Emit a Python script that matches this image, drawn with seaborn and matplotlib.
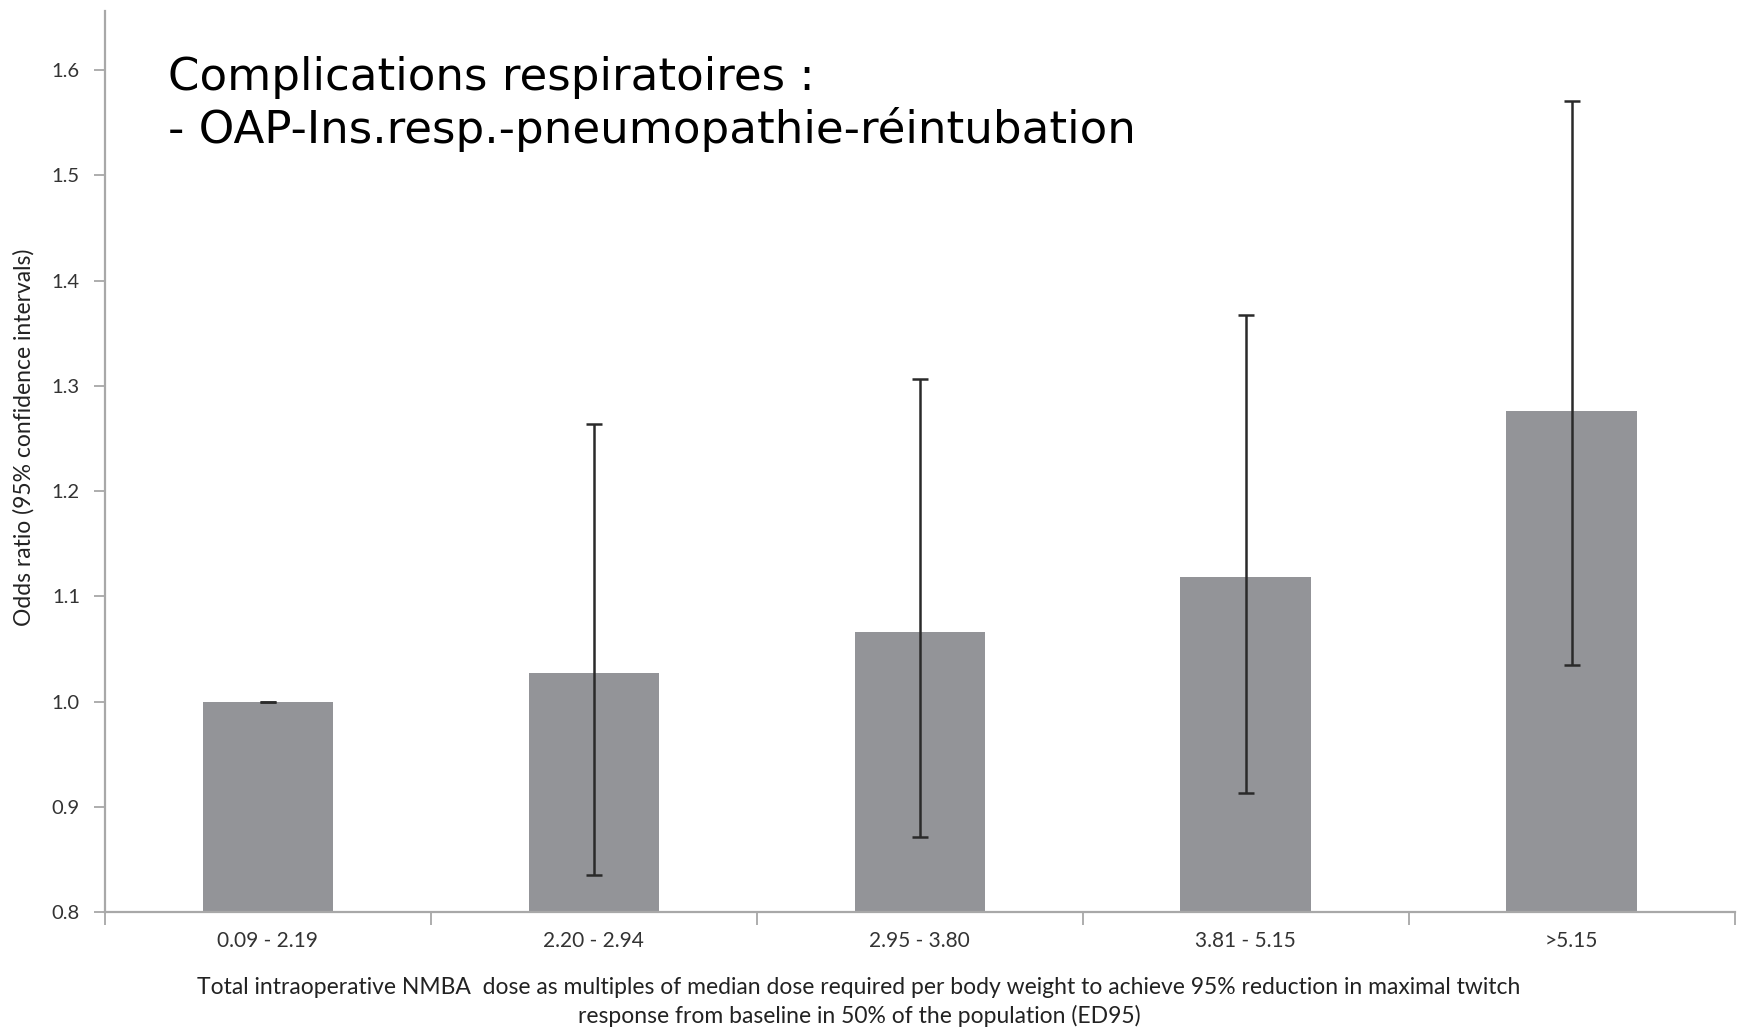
import matplotlib
matplotlib.use("Agg")
import matplotlib.pyplot as plt
import seaborn as sns
import pandas as pd
import numpy as np

categories = ["0.09 - 2.19", "2.20 - 2.94", "2.95 - 3.80", "3.81 - 5.15", ">5.15"]
odds_ratio = [1.0, 1.027, 1.066, 1.118, 1.276]
ci_low = [1.0, 0.835, 0.871, 0.913, 1.035]
ci_high = [1.0, 1.264, 1.307, 1.367, 1.571]
y_ticks = [0.8, 0.9, 1.0, 1.1, 1.2, 1.3, 1.4, 1.5, 1.6]

sns.set_theme(style="white")
plt.rcParams['font.family'] = ['Lato', 'DejaVu Sans']

fig = plt.figure(figsize=(17.38, 10.33), dpi=100)
ax = fig.add_axes([0.0604, 0.1171, 0.9376, 0.872])

df = pd.DataFrame({"cat": categories, "or": odds_ratio})
sns.barplot(data=df, x="cat", y="or", color="#939498", saturation=1,
            width=0.4, errorbar=None, ax=ax, linewidth=0)

x = np.arange(len(categories))
yerr = [np.array(odds_ratio) - np.array(ci_low), np.array(ci_high) - np.array(odds_ratio)]
ax.errorbar(x, odds_ratio, yerr=yerr, fmt="none", ecolor="#2a2a2a",
            elinewidth=1.8, capsize=6, capthick=1.8)

ax.set_ylim(0.8, 1.656)
ax.set_xlim(-0.5, 4.5)
ax.set_yticks(y_ticks)
ax.set_yticklabels([f"{v:.1f}" for v in y_ticks], fontsize=14.5, color="#333333")

ax.set_xticks(np.arange(-0.5, 5.0, 1.0))
ax.set_xticklabels([])
ax.set_xticks(x, minor=True)
ax.set_xticklabels(categories, minor=True, fontsize=15, color="#333333")
ax.tick_params(axis="x", which="major", length=9, width=1.2, color="#a0a0a0", direction="out", bottom=True)
ax.tick_params(axis="x", which="minor", length=0, pad=14, bottom=True)
ax.tick_params(axis="y", length=8, width=1.2, color="#a0a0a0", direction="out", left=True, pad=10)

for s in ["top", "right"]:
    ax.spines[s].set_visible(False)
for s in ["left", "bottom"]:
    ax.spines[s].set_color("#a8a8a8")
    ax.spines[s].set_linewidth(1.6)

ax.set_xlabel("Total intraoperative NMBA  dose as multiples of median dose required per body weight to achieve 95% reduction in maximal twitch\nresponse from baseline in 50% of the population (ED95)",
              fontsize=16.5, color="#222222", linespacing=1.4)
ax.xaxis.set_label_coords(0.4627, -0.072)
ax.xaxis.label.set_va("top")
ax.set_ylabel("Odds ratio (95% confidence intervals)", fontsize=16.5, color="#222222")
ax.yaxis.set_label_coords(-0.043, 0.527)

fig.text(0.0967, 0.899, "Complications respiratoires :\n- OAP-Ins.resp.-pneumopathie-réintubation",
         fontsize=32.5, color="black", va="center", ha="left", linespacing=1.22,
         family=["DejaVu Sans"])

fig.savefig("out.png", dpi=100)
